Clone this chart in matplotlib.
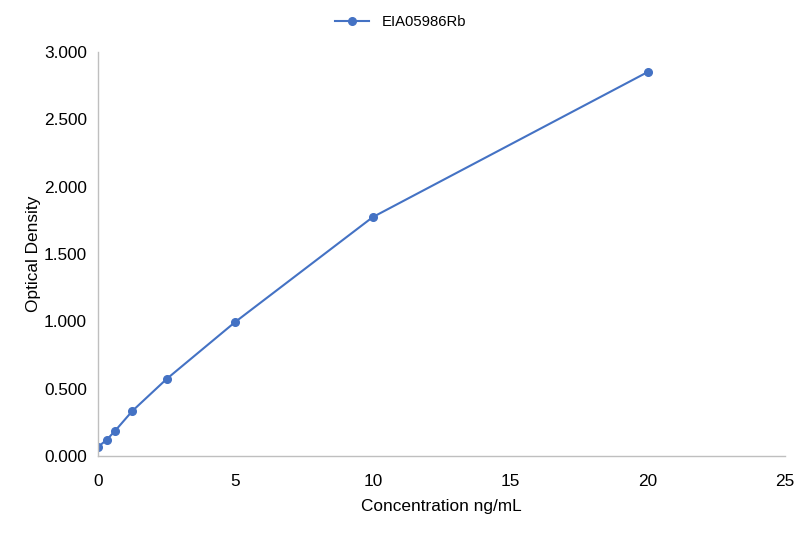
import matplotlib
matplotlib.use("Agg")
import matplotlib.pyplot as plt
from matplotlib.ticker import FormatStrFormatter

conc = [0, 0.3125, 0.625, 1.25, 2.5, 5, 10, 20]
od = [0.067, 0.119, 0.187, 0.334, 0.572, 0.996, 1.774, 2.851]
series_name = "EIA05986Rb"

plt.rcParams['font.family'] = ['Liberation Sans', 'DejaVu Sans']
fig = plt.figure(figsize=(8.01, 5.33), dpi=100)
ax = fig.add_axes([0.1223, 0.1445, 0.8577, 0.7579])
color = '#4472C4'
fs = 12.4
ax.plot(conc, od, color=color, lw=1.5, marker='o', ms=5.5, label=series_name)
ax.set_xlim(0, 25)
ax.set_ylim(0, 3.0)
ax.set_xticks([0, 5, 10, 15, 20, 25])
ax.set_yticks([0, 0.5, 1.0, 1.5, 2.0, 2.5, 3.0])
ax.yaxis.set_major_formatter(FormatStrFormatter('%.3f'))
for s in ['top', 'right']:
    ax.spines[s].set_visible(False)
for s in ['left', 'bottom']:
    ax.spines[s].set_color('#BFBFBF')
    ax.spines[s].set_linewidth(1)
ax.tick_params(length=0, labelsize=fs, colors='#000000', pad=8)
ax.tick_params(axis='x', pad=13)
ax.set_xlabel('Concentration ng/mL', fontsize=fs, labelpad=7)
ax.set_ylabel('Optical Density', fontsize=fs, labelpad=2)
fig.legend(*ax.get_legend_handles_labels(), loc='center', bbox_to_anchor=(0.5, 1 - 22/533),
           frameon=False, fontsize=10.7, handlelength=2.3)
fig.savefig('out.png', dpi=100)
